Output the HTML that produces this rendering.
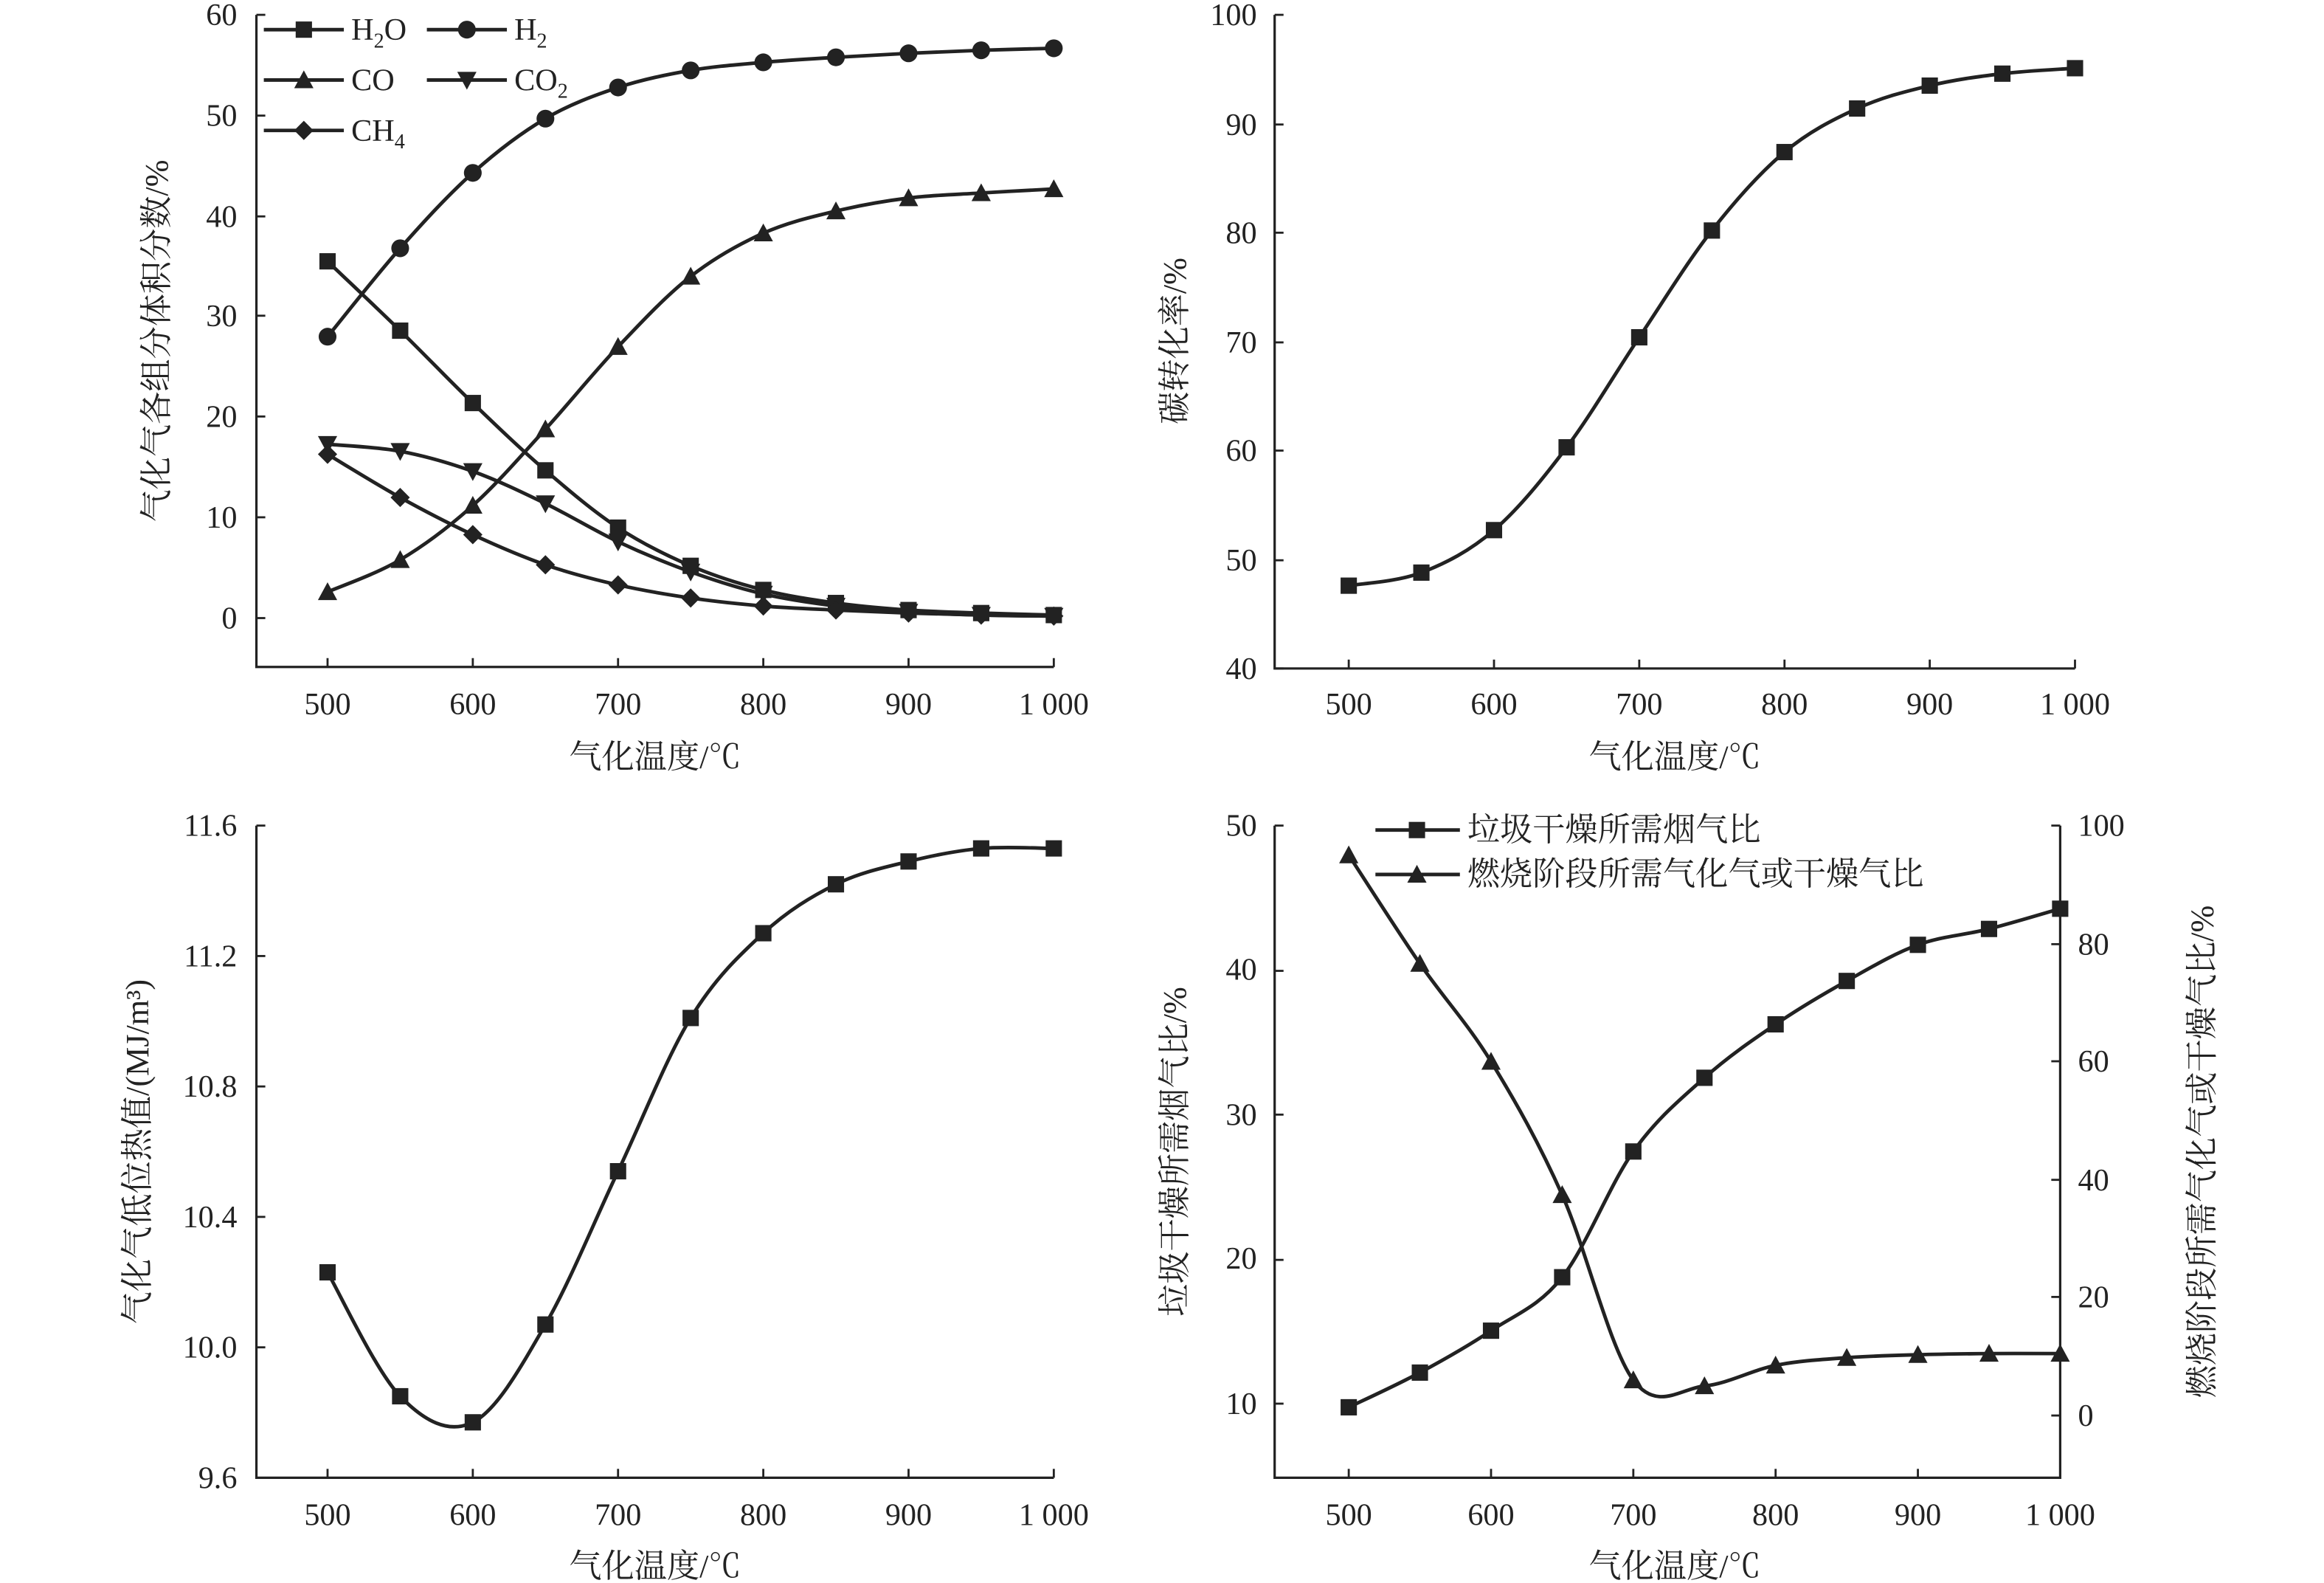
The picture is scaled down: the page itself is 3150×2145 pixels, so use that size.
<!DOCTYPE html>
<html><head><meta charset="utf-8"><style>
html,body{margin:0;padding:0;background:#fff}
svg{display:block}
text{font-family:"Liberation Serif","Noto Serif CJK SC",serif;fill:#222}
.t{font-size:21px}
.c{font-size:22px;font-family:"Liberation Serif","Noto Serif CJK SC",serif}
</style></head><body>
<svg id="s" width="3150" height="2145" viewBox="0 0 1568 1068" preserveAspectRatio="none" xmlns="http://www.w3.org/2000/svg">
<g stroke="#222" stroke-width="1.6" fill="none">
<path d="M173,10V450H711"/>
<path d="M860,10V451H1400"/>
<path d="M173,557V997H711"/>
<path d="M860,557V997H1390V557"/>
</g>
<g id="ticks" stroke="#222" stroke-width="1.4"></g>
<g id="series"></g>
<g class="t" text-anchor="end">
<text x="160" y="17">60</text><text x="160" y="85">50</text><text x="160" y="153">40</text><text x="160" y="220">30</text><text x="160" y="288">20</text><text x="160" y="356">10</text><text x="160" y="424">0</text>
<text x="848" y="17">100</text><text x="848" y="91">90</text><text x="848" y="164">80</text><text x="848" y="238">70</text><text x="848" y="311">60</text><text x="848" y="385">50</text><text x="848" y="458">40</text>
<text x="160" y="564">11.6</text><text x="160" y="652">11.2</text><text x="160" y="740">10.8</text><text x="160" y="828">10.4</text><text x="160" y="916">10.0</text><text x="160" y="1004">9.6</text>
<text x="848" y="564">50</text><text x="848" y="661">40</text><text x="848" y="759">30</text><text x="848" y="856">20</text><text x="848" y="954">10</text>
</g>
<g class="t" text-anchor="start">
<text x="1402" y="564">100</text><text x="1402" y="644">80</text><text x="1402" y="723">60</text><text x="1402" y="803">40</text><text x="1402" y="882">20</text><text x="1402" y="962">0</text>
</g>
<g class="t" text-anchor="middle">
<text x="221" y="482">500</text><text x="319" y="482">600</text><text x="417" y="482">700</text><text x="515" y="482">800</text><text x="613" y="482">900</text><text x="711" y="482">1 000</text>
<text x="910" y="482">500</text><text x="1008" y="482">600</text><text x="1106" y="482">700</text><text x="1204" y="482">800</text><text x="1302" y="482">900</text><text x="1400" y="482">1 000</text>
<text x="221" y="1029">500</text><text x="319" y="1029">600</text><text x="417" y="1029">700</text><text x="515" y="1029">800</text><text x="613" y="1029">900</text><text x="711" y="1029">1 000</text>
<text x="910" y="1029">500</text><text x="1006" y="1029">600</text><text x="1102" y="1029">700</text><text x="1198" y="1029">800</text><text x="1294" y="1029">900</text><text x="1390" y="1029">1 000</text>
</g>
<g class="c" text-anchor="middle">
<text x="442" y="518">气化温度/℃</text>
<text x="1130" y="518">气化温度/℃</text>
<text x="442" y="1064">气化温度/℃</text>
<text x="1130" y="1064">气化温度/℃</text>
<text transform="translate(113,230) rotate(-90)">气化气各组分体积分数/%</text>
<text transform="translate(800,230) rotate(-90)">碳转化率/%</text>
<text transform="translate(100,777) rotate(-90)">气化气低位热值/(MJ/m³)</text>
<text transform="translate(800,777) rotate(-90)">垃圾干燥所需烟气比/%</text>
<text transform="translate(1493,777) rotate(-90)">燃烧阶段所需气化气或干燥气比/%</text>
</g>
<g class="t">
<text x="237" y="27">H<tspan font-size="14" dy="5">2</tspan><tspan dy="-5">O</tspan></text>
<text x="347" y="27">H<tspan font-size="14" dy="5">2</tspan></text>
<text x="237" y="61">CO</text>
<text x="347" y="61">CO<tspan font-size="14" dy="5">2</tspan></text>
<text x="237" y="95">CH<tspan font-size="14" dy="5">4</tspan></text>
<text class="c" x="990" y="567">垃圾干燥所需烟气比</text>
<text class="c" x="990" y="597">燃烧阶段所需气化气或干燥气比</text>
</g>
</svg>
<script>
var NS="http://www.w3.org/2000/svg",S=document.getElementById("series"),T=document.getElementById("ticks");
function el(n,a,p){var e=document.createElementNS(NS,n);for(var k in a)e.setAttribute(k,a[k]);(p||S).appendChild(e);return e;}
function path(pts){var d="M"+pts[0][0]+","+pts[0][1];for(var i=0;i<pts.length-1;i++){var p0=pts[i-1]||pts[i],p1=pts[i],p2=pts[i+1],p3=pts[i+2]||p2;d+="C"+(p1[0]+(p2[0]-p0[0])/6)+","+(p1[1]+(p2[1]-p0[1])/6)+" "+(p2[0]-(p3[0]-p1[0])/6)+","+(p2[1]-(p3[1]-p1[1])/6)+" "+p2[0]+","+p2[1];}return d;}
function mk(t,x,y){var r=5.5;if(t=="s")el("rect",{x:x-r,y:y-r,width:2*r,height:2*r,fill:"#222"});
else if(t=="c")el("circle",{cx:x,cy:y,r:r+0.5,fill:"#222"});
else if(t=="u")el("polygon",{points:(x)+","+(y-r-1)+" "+(x-r-1)+","+(y+r)+" "+(x+r+1)+","+(y+r),fill:"#222"});
else if(t=="d")el("polygon",{points:(x)+","+(y+r+1)+" "+(x-r-1)+","+(y-r)+" "+(x+r+1)+","+(y-r),fill:"#222"});
else el("polygon",{points:x+","+(y-r-1)+" "+(x+r+1)+","+y+" "+x+","+(y+r+1)+" "+(x-r-1)+","+y,fill:"#222"});}
function ser(data,x0,dx,y0,sc,t){var pts=data.map(function(v,i){return[x0+i*dx,y0-v*sc];});el("path",{d:path(pts),stroke:"#222","stroke-width":2.4,fill:"none"});pts.forEach(function(p){mk(t,p[0],p[1]);});}
var s1=6.78;
ser([35.5,28.6,21.4,14.7,9,5.2,2.8,1.5,0.8,0.5,0.3],221,49,417,s1,"s");
ser([28,36.8,44.3,49.7,52.8,54.5,55.3,55.8,56.2,56.5,56.7],221,49,417,s1,"c");
ser([2.6,5.8,11.2,18.8,27,34,38.3,40.5,41.8,42.3,42.7],221,49,417,s1,"u");
ser([17.3,16.6,14.6,11.4,7.6,4.6,2.4,1.2,0.6,0.3,0.2],221,49,417,s1,"d");
ser([16.3,12,8.3,5.3,3.3,2,1.2,0.8,0.5,0.3,0.2],221,49,417,s1,"m");
ser([7.6,8.8,12.7,20.3,30.4,40.2,47.4,51.4,53.5,54.6,55.1],910,49,451,7.35,"s");
ser([0.63,0.25,0.17,0.47,0.94,1.41,1.67,1.82,1.89,1.93,1.93],221,49,997,220,"s");
ser([9.8,12.2,15.1,18.8,27.5,32.6,36.3,39.3,41.8,42.9,44.3],910,48,1045,9.75,"s");
ser([95,76.6,60,37.4,6,5,8.5,9.8,10.3,10.5,10.5],910,48,955,3.98,"u");
[[14,"s"],[48,"u"],[82,"m"]].forEach(function(a){el("path",{d:"M178,"+(20+a[0]-14)+"H232",stroke:"#222","stroke-width":2.4});mk(a[1],205,20+a[0]-14);});
[[20,"c"],[54,"d"]].forEach(function(a){el("path",{d:"M288,"+a[0]+"H342",stroke:"#222","stroke-width":2.4});mk(a[1],315,a[0]);});
el("path",{d:"M928,560H985",stroke:"#222","stroke-width":2.4});mk("s",956,560);
el("path",{d:"M928,590H985",stroke:"#222","stroke-width":2.4});mk("u",956,590);
function tk(d){el("path",{d:d,fill:"none"},T);}
[10,78,146,213,281,349,417].forEach(function(y){tk("M173,"+y+"h6");});
[10,84,157,231,304,378,451].forEach(function(y){tk("M860,"+y+"h6");});
[557,645,733,821,909,997].forEach(function(y){tk("M173,"+y+"h6");});
[557,655,752,850,947].forEach(function(y){tk("M860,"+y+"h6");});
[557,637,716,796,875,955].forEach(function(y){tk("M1390,"+y+"h-6");});
[221,319,417,515,613,711].forEach(function(x){tk("M"+x+",450v-6");tk("M"+x+",997v-6");});
[910,1008,1106,1204,1302,1400].forEach(function(x){tk("M"+x+",451v-6");});
[910,1006,1102,1198,1294,1390].forEach(function(x){tk("M"+x+",997v-6");});
</script>
</body></html>
